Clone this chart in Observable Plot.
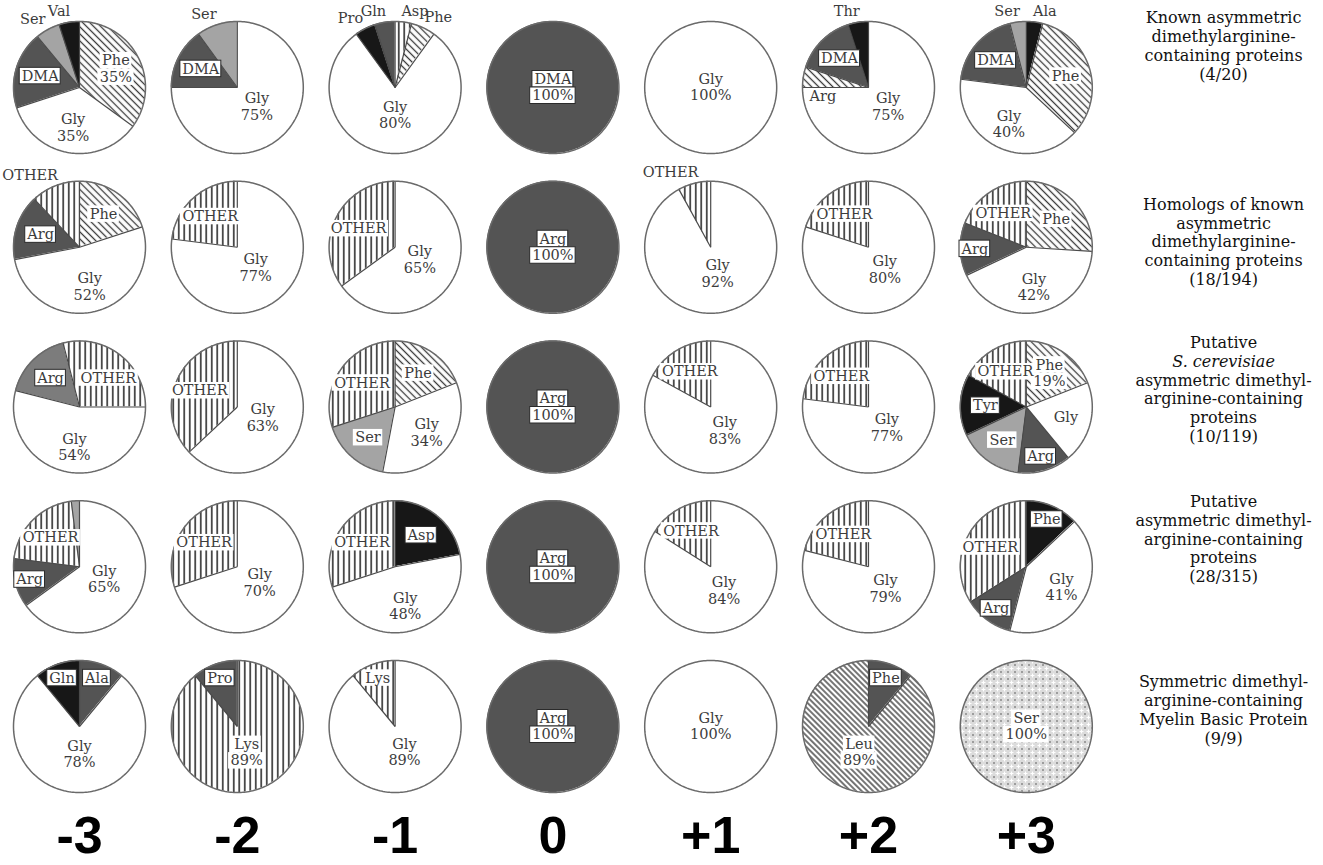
<!DOCTYPE html>
<html>
<head>
<meta charset="utf-8">
<script src="https://cdn.jsdelivr.net/npm/d3@7"></script>
<script src="https://cdn.jsdelivr.net/npm/@observablehq/plot@0.6"></script>
<style>
  html, body { margin: 0; padding: 0; background: #ffffff; }
</style>
</head>
<body>
<div id="chart"></div>
<script>
// ---------- DATA ----------
// residue positions relative to the methylated arginine
const positions = ["-3", "-2", "-1", "0", "+1", "+2", "+3"];

// protein groups (row titles), one entry per line
const groupTitles = [
  ["Known asymmetric", "dimethylarginine-", "containing proteins", "(4/20)"],
  ["Homologs of known", "asymmetric", "dimethylarginine-", "containing proteins", "(18/194)"],
  ["Putative", "S. cerevisiae", "asymmetric dimethyl-", "arginine-containing", "proteins", "(10/119)"],
  ["Putative", "asymmetric dimethyl-", "arginine-containing", "proteins", "(28/315)"],
  ["Symmetric dimethyl-", "arginine-containing", "Myelin Basic Protein", "(9/9)"]
];
const italicLines = ["S. cerevisiae"];

// each pie: [residue, percent, shading, show percent]; clockwise from 12 o'clock
const knownAsym = [
  [["Phe", 35, "hatch", 1], ["Gly", 35, "white", 1], ["DMA", 19, "dark", 0], ["Ser", 6, "light", 0], ["Val", 5, "black", 0]],
  [["Gly", 75, "white", 1], ["DMA", 15, "dark", 0], ["Ser", 10, "light", 0]],
  [["Asp", 4, "vstripe", 0], ["Phe", 6, "hatch", 0], ["Gly", 80, "white", 1], ["Pro", 5, "black", 0], ["Gln", 5, "dark", 0]],
  [["DMA", 100, "dark", 1]],
  [["Gly", 100, "white", 1]],
  [["Gly", 75, "white", 1], ["Arg", 5, "hatch", 0], ["DMA", 15, "dark", 0], ["Thr", 5, "black", 0]],
  [["Ala", 4, "black", 0], ["Phe", 33, "hatch", 0], ["Gly", 40, "white", 1], ["DMA", 19, "dark", 0], ["Ser", 4, "light", 0]]
];
const homologs = [
  [["Phe", 20, "hatch", 0], ["Gly", 52, "white", 1], ["Arg", 16, "dark", 0], ["OTHER", 12, "vstripe", 0]],
  [["Gly", 77, "white", 1], ["OTHER", 23, "vstripe", 0]],
  [["Gly", 65, "white", 1], ["OTHER", 35, "vstripe", 0]],
  [["Arg", 100, "dark", 1]],
  [["Gly", 92, "white", 1], ["OTHER", 8, "vstripe", 0]],
  [["Gly", 80, "white", 1], ["OTHER", 20, "vstripe", 0]],
  [["Phe", 26, "hatch", 0], ["Gly", 42, "white", 1], ["Arg", 13, "dark", 0], ["OTHER", 19, "vstripe", 0]]
];
const cerevisiae = [
  [["OTHER", 25, "vstripe", 0], ["Gly", 54, "white", 1], ["Arg", 17, "mid", 0], ["", 4, "vstripe", 0]],
  [["Gly", 63, "white", 1], ["OTHER", 37, "vstripe", 0]],
  [["Phe", 19, "hatch", 0], ["Gly", 34, "white", 1], ["Ser", 17, "light", 0], ["OTHER", 30, "vstripe", 0]],
  [["Arg", 100, "dark", 1]],
  [["Gly", 83, "white", 1], ["OTHER", 17, "vstripe", 0]],
  [["Gly", 77, "white", 1], ["OTHER", 23, "vstripe", 0]],
  [["Phe", 19, "hatch", 1], ["Gly", 20, "white", 0], ["Arg", 13, "dark", 0], ["Ser", 16, "light", 0], ["Tyr", 15, "black", 0], ["OTHER", 17, "vstripe", 0]]
];
const putative = [
  [["Gly", 65, "white", 1], ["Arg", 12, "dark", 0], ["OTHER", 21, "vstripe", 0], ["", 2, "light", 0]],
  [["Gly", 70, "white", 1], ["OTHER", 30, "vstripe", 0]],
  [["Asp", 22, "black", 0], ["Gly", 48, "white", 1], ["OTHER", 30, "vstripe", 0]],
  [["Arg", 100, "dark", 1]],
  [["Gly", 84, "white", 1], ["OTHER", 16, "vstripe", 0]],
  [["Gly", 79, "white", 1], ["OTHER", 21, "vstripe", 0]],
  [["Phe", 13, "black", 0], ["Gly", 41, "white", 1], ["Arg", 12, "dark", 0], ["OTHER", 34, "vstripe", 0]]
];
const myelin = [
  [["Ala", 11, "dark", 0], ["Gly", 78, "white", 1], ["Gln", 11, "black", 0]],
  [["Lys", 89, "vstripe", 1], ["Pro", 11, "dark", 0]],
  [["Gly", 89, "white", 1], ["Lys", 11, "vstripe", 0]],
  [["Arg", 100, "dark", 1]],
  [["Gly", 100, "white", 1]],
  [["Phe", 11, "dark", 0], ["Leu", 89, "dhatch", 1]],
  [["Ser", 100, "cross", 1]]
];
const groups = [knownAsym, homologs, cerevisiae, putative, myelin];

// ---------- STYLE / LAYOUT ----------
const shading = {
  white: "#ffffff", dark: "#545454", mid: "#7c7c7c", black: "#171717", light: "#a4a4a4",
  vstripe: "url(#pat-vstripe)", hatch: "url(#pat-hatch)", dhatch: "url(#pat-dhatch)", cross: "url(#pat-cross)"
};
const W = 1323, H = 865;
const UX = 157.8, X0 = 79;      // column step and first column centre (px)
const UY = 159.75, Y0 = 87;     // row step and first row centre (px)
const titleShift = [-42, -6, -18, -28, -17]; // row title block offset from its row (px)
const RP = 66;                // pie radius in pixels
const FS = 14.5;              // pie label font size
const LH = 16.5;              // pie label line height (px)
const TFS = 16, TLH = 18.7;   // row title font size / line height
const serif = "'DejaVu Serif', 'Liberation Serif', serif";

const ctx = document.createElement("canvas").getContext("2d");
function textWidth(s, fs) { ctx.font = `${fs}px 'DejaVu Serif'`; return ctx.measureText(s).width; }

// ---------- GEOMETRY (derived from the data) ----------
const wedges = [], rims = [], spokes = [], labels = [], boxes = [];
groups.forEach((pies, ri) => pies.forEach((slices, ci) => {
  const pid = ri * 7 + ci;
  const at = (rpx, a) => ({x: ci + rpx * Math.sin(a) / UX, y: ri - rpx * Math.cos(a) / UY});
  for (let k = 0; k <= 240; k++) rims.push({pid, ...at(RP, k / 240 * 2 * Math.PI)});
  let acc = 0;
  slices.forEach(([aa, v, tone, showPct], si) => {
    const a0 = acc / 100 * 2 * Math.PI, a1 = (acc + v) / 100 * 2 * Math.PI;
    acc += v;
    const id = pid * 10 + si;
    const n = Math.max(2, Math.ceil((a1 - a0) / (Math.PI / 120)));
    for (let k = 0; k <= n; k++) {
      const p = at(RP, a0 + (a1 - a0) * k / n);
      wedges.push({id, fill: shading[tone], x1: p.x, y1: p.y, x2: ci, y2: ri});
    }
    if (slices.length > 1) { const p = at(RP, a0); spokes.push({x1: ci, y1: ri, x2: p.x, y2: p.y}); }
    if (!aa) return;
    const mid = (a0 + a1) / 2, s = Math.sin(mid), c = Math.cos(mid);
    const lines = showPct ? [aa, v + "%"] : [aa];
    let dx, dy, boxed = tone !== "white";
    if (v === 100) { dx = 0; dy = 0; }
    else if (v >= 15 || (v > 10.5 && aa.length <= 3)) {
      const rr = v >= 60 ? 0.42 : v < 15 ? 0.78 : 0.62;
      dx = rr * RP * s; dy = -rr * RP * c;
    } else if (Math.abs(c) < 0.5) {
      // small slice pointing sideways: label sits inside, just below it
      dx = 0.7 * RP * s; dy = -0.7 * RP * c + LH; boxed = false;
    } else {
      // small slice: label outside the rim, shifted toward its side
      const w = textWidth(aa, FS);
      dx = 1.17 * RP * s + (Math.abs(s) < 0.05 ? 0 : Math.sign(s) * 0.375 * w);
      dy = -1.17 * RP * c; boxed = false;
    }
    lines.forEach((t, j) => {
      const ly = dy + (j - (lines.length - 1) / 2) * LH;
      const x = ci + dx / UX, y = ri + ly / UY;
      labels.push({x, y, text: t});
      if (boxed) {
        const w = (textWidth(t, FS) + 4) / UX, h = (FS + 2) / UY;
        boxes.push({x1: x - w / 2, x2: x + w / 2, y1: y - h / 2, y2: y + h / 2,
          stroke: (tone === "dark" || tone === "black" || tone === "mid") ? "#2a2a2a" : "none"});
      }
    });
  });
}));

// one multi-line text block per row title
const titleBlocks = groupTitles.map((lines, ri) => ({
  x: positions.length + 0.25, y: ri + titleShift[ri] / UY, text: lines.join("\n")
}));

// ---------- PLOT ----------
const svg = Plot.plot({
  width: W, height: H,
  marginTop: 0, marginLeft: 0, marginRight: 0, marginBottom: 51,
  style: {background: "#ffffff", color: "#000"},
  x: {domain: [0, positions.length - 1], range: [X0, X0 + (positions.length - 1) * UX]},
  y: {domain: [0, groups.length - 1], range: [Y0, Y0 + (groups.length - 1) * UY], axis: null},
  color: {type: "identity"},
  marks: [
    Plot.area(wedges, {x1: "x1", y1: "y1", x2: "x2", y2: "y2", z: "id", fill: "fill", curve: "linear"}),
    Plot.link(spokes, {x1: "x1", y1: "y1", x2: "x2", y2: "y2", stroke: "#4a4a4a", strokeWidth: 1.2}),
    Plot.line(rims, {x: "x", y: "y", z: "pid", stroke: "#6a6a6a", strokeWidth: 1.5}),
    Plot.rect(boxes, {x1: "x1", x2: "x2", y1: "y1", y2: "y2", fill: "#ffffff", stroke: "stroke", strokeWidth: 1}),
    Plot.text(labels, {x: "x", y: "y", text: "text", textAnchor: "middle",
      fontFamily: serif, fontSize: FS, fill: "#3c3c3c"}),
    Plot.text(titleBlocks, {x: "x", y: "y", text: "text", textAnchor: "middle", lineAnchor: "middle",
      lineHeight: TLH / TFS, fontFamily: serif, fontSize: TFS, fill: "#111"}),
    Plot.axisX(d3.range(positions.length), {tickFormat: i => positions[i], tickSize: 0, tickPadding: 2,
      fontSize: 52, fontWeight: "bold", fontFamily: "'Liberation Sans', Arial, sans-serif", label: null, fill: "#000"})
  ]
});

// italic species name inside the row titles
d3.select(svg).selectAll("tspan")
  .filter(function () { return italicLines.includes(this.textContent); })
  .attr("font-style", "italic");

// shading patterns
const defs = d3.select(svg).insert("defs", ":first-child");
function stripePattern(id, size, angle, width, color) {
  const p = defs.append("pattern").attr("id", id).attr("patternUnits", "userSpaceOnUse")
    .attr("width", size).attr("height", size).attr("patternTransform", `rotate(${angle})`);
  p.append("rect").attr("width", size).attr("height", size).attr("fill", "#ffffff");
  p.append("line").attr("x1", size / 2).attr("x2", size / 2).attr("y1", 0).attr("y2", size)
    .attr("stroke", color).attr("stroke-width", width);
}
stripePattern("pat-vstripe", 5.5, 0, 1.6, "#2e2e2e");
stripePattern("pat-hatch", 5, -45, 1.3, "#3a3a3a");
stripePattern("pat-dhatch", 4, -45, 1.4, "#3a3a3a");
const cp = defs.append("pattern").attr("id", "pat-cross").attr("patternUnits", "userSpaceOnUse")
  .attr("width", 7).attr("height", 7);
cp.append("rect").attr("width", 7).attr("height", 7).attr("fill", "#dcdcdc");
cp.append("path").attr("d", "M3.5,1.5V5.5M1.5,3.5H5.5").attr("stroke", "#ffffff").attr("stroke-width", 1.2);
[[0, 0], [7, 7], [7, 0], [0, 7]].forEach(([cx, cy]) =>
  cp.append("circle").attr("cx", cx).attr("cy", cy).attr("r", 1).attr("fill", "#888"));

document.getElementById("chart").appendChild(svg);
</script>
</body>
</html>
